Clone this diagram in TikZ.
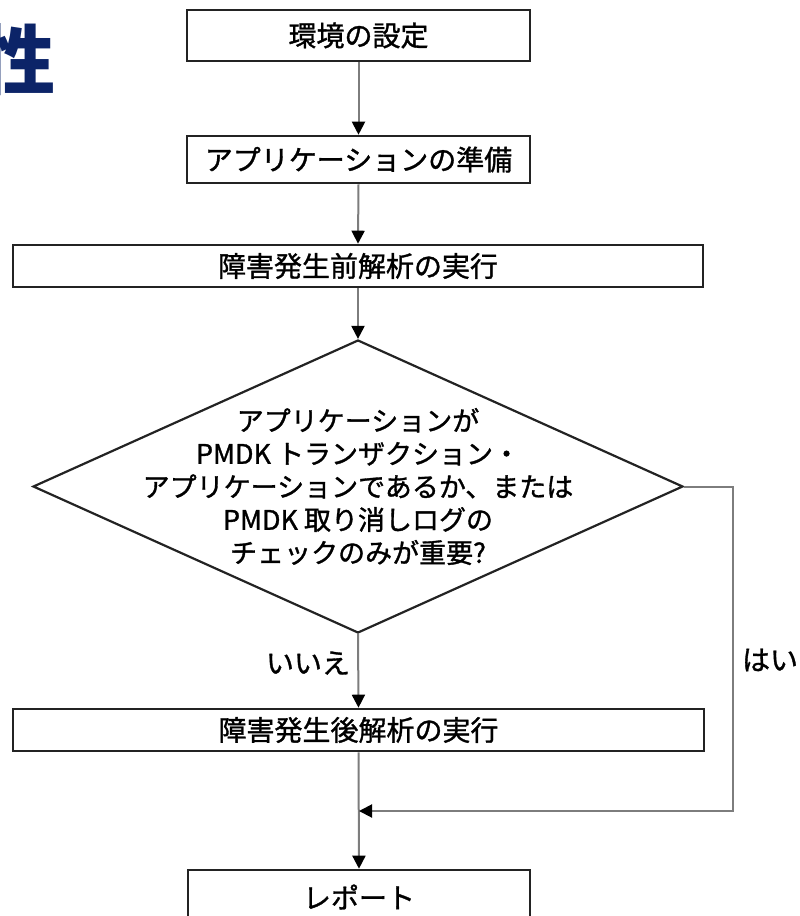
\documentclass[tikz,border=0pt]{standalone}
\usepackage{fontspec}
\usetikzlibrary{shapes.geometric,arrows.meta}
\newfontfamily\jp{Noto Sans CJK JP}[FakeBold=1.2]
\newfontfamily\jpb{Noto Sans CJK JP}
\definecolor{navy}{RGB}{12,36,104}
\definecolor{boxline}{RGB}{35,35,35}
\definecolor{conn}{RGB}{125,125,125}
\tikzset{
  stepbox/.style={draw=boxline, line width=2.6pt, fill=white, inner sep=0pt,
    font=\jp\fontsize{28}{32}\selectfont, text=black},
  decision/.style={diamond, draw=boxline, line width=2.2pt, inner sep=0pt, aspect=2.2},
  dectext/.style={align=center, inner sep=0pt, font=\jp\fontsize{27}{33}\selectfont, text=black},
  lbl/.style={inner sep=0pt, font=\jp\fontsize{28}{32}\selectfont, text=black},
  flow/.style={draw=conn, line width=2pt, -{Triangle[length=13pt,width=13pt,color=black]}},
  plain/.style={draw=conn, line width=2pt},
}
\begin{document}
\begin{tikzpicture}[x=1pt,y=-1pt]
\useasboundingbox (0,0) rectangle (800,916);
\clip (0,0) rectangle (800,916);
\node[anchor=east, inner sep=0pt, text=navy, font=\jpb\bfseries\fontsize{76}{80}\selectfont] (title) at (56,60) {性};
\node[stepbox, minimum width=343pt, minimum height=51pt] (env) at (358.5,35.5) {環境の設定};
\node[stepbox, minimum width=343pt, minimum height=47pt] (app) at (358.5,159.5) {アプリケーションの準備};
\node[stepbox, minimum width=690pt, minimum height=42pt] (pre) at (358,266) {障害発生前解析の実行};
\node[decision, minimum width=650pt, minimum height=293pt] (dec) at (358,486.5) {};
\node[dectext] (dect) at (dec.center) {アプリケーションが\\PMDK トランザクション・\\アプリケーションであるか、または\\PMDK 取り消しログの\\チェックのみが重要?};
\node[stepbox, minimum width=691pt, minimum height=42pt] (post) at (358.5,730) {障害発生後解析の実行};
\node[stepbox, minimum width=342pt, minimum height=54pt] (rep) at (359,897) {レポート};
\node[lbl] (no) at (308,663) {いいえ};
\node[lbl] (yes) at (770,660) {はい};
\coordinate (c1) at (733,486.5);
\coordinate (c2) at (733,811);
\coordinate (join) at (359,811);
\draw[flow] (env.south) -- (app.north);
\draw[flow] (app.south) -- (pre.north);
\draw[flow] (pre.south) -- (dec.north);
\draw[flow] (dec.south) -- (post.north);
\draw[flow] (post.south) -- (rep.north);
\draw[flow] (dec.east) -- (c1) -- (c2) -- (join);
\end{tikzpicture}
\end{document}
